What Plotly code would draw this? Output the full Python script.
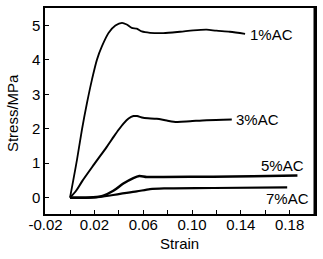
import plotly.graph_objects as go

# Data
strain_1 = [0, 0.0057, 0.0098, 0.0139, 0.018, 0.0221, 0.0262, 0.0317, 0.0372, 0.0426, 0.0465, 0.0506,
            0.0547, 0.0588, 0.0656, 0.0765, 0.0902, 0.101, 0.112, 0.120, 0.131, 0.1435]
stress_1 = [0, 1.10, 1.98, 2.75, 3.43, 4.01, 4.40, 4.79, 5.00, 5.08, 5.03, 4.93,
            4.91, 4.83, 4.79, 4.78, 4.82, 4.86, 4.88, 4.85, 4.82, 4.76]

strain_3 = [0, 0.005, 0.010, 0.020, 0.030, 0.036, 0.040, 0.044, 0.048, 0.052, 0.055, 0.060, 0.0711,
            0.0793, 0.0875, 0.0984, 0.112, 0.1326]
stress_3 = [0, 0.20, 0.48, 0.98, 1.47, 1.78, 1.98, 2.16, 2.30, 2.37, 2.37, 2.32, 2.29,
            2.24, 2.20, 2.22, 2.25, 2.27]

strain_5 = [0, 0.012, 0.019, 0.0273, 0.0355, 0.0437, 0.0519, 0.0568, 0.0629, 0.0765, 0.1175, 0.150, 0.1864]
stress_5 = [0, 0.0, 0.01, 0.06, 0.20, 0.41, 0.57, 0.63, 0.60, 0.60, 0.61, 0.62, 0.64]

strain_7 = [0, 0.015, 0.0246, 0.041, 0.0547, 0.0656, 0.0793, 0.1175, 0.178]
stress_7 = [0, 0.0, 0.02, 0.11, 0.18, 0.25, 0.27, 0.28, 0.30]

series = [
    ("1%AC", strain_1, stress_1, 1.8),
    ("3%AC", strain_3, stress_3, 2.0),
    ("5%AC", strain_5, stress_5, 2.5),
    ("7%AC", strain_7, stress_7, 2.2),
]

# label anchor positions (data coords)
label_x = [0.1455, 0.1345, 0.155, 0.159]
label_y = [4.74, 2.27, 0.93, -0.03]

x_tickvals = [-0.02, 0, 0.02, 0.04, 0.06, 0.08, 0.10, 0.12, 0.14, 0.16, 0.18, 0.20]
x_ticktext = ["-0.02", "", "0.02", "", "0.06", "", "0.10", "", "0.14", "", "0.18", ""]
y_tickvals = [0, 1, 2, 3, 4, 5]

FONT = "Liberation Sans, Arial, sans-serif"

fig = go.Figure()
for name, xs, ys, w in series:
    fig.add_trace(go.Scatter(x=xs, y=ys, mode="lines", name=name,
                             line=dict(color="black", width=w, shape="spline", smoothing=0.8),
                             showlegend=False))

for (name, _, _, _), lx, ly in zip(series, label_x, label_y):
    fig.add_annotation(x=lx, y=ly, text=name, showarrow=False, xanchor="left", yanchor="middle",
                       font=dict(family=FONT, size=15, color="black"))

# axis titles
fig.add_annotation(x=0.497, y=0, xref="paper", yref="paper", text="Strain", showarrow=False,
                   xanchor="center", yanchor="middle", yshift=-29,
                   font=dict(family=FONT, size=15, color="black"))
fig.add_annotation(x=0, y=0.49, xref="paper", yref="paper", text="Stress/MPa", showarrow=False,
                   textangle=-90, xanchor="center", yanchor="middle", xshift=-33,
                   font=dict(family=FONT, size=15, color="black"))

# thicker right border
fig.add_shape(type="line", xref="paper", yref="paper", x0=1, x1=1, y0=0, y1=1,
              line=dict(color="black", width=3))

fig.update_layout(
    width=323, height=259,
    margin=dict(l=45, r=8, t=8, b=45),
    paper_bgcolor="white", plot_bgcolor="white",
    font=dict(family=FONT, size=15, color="black"),
    xaxis=dict(range=[-0.0205, 0.2008], tickvals=x_tickvals, ticktext=x_ticktext,
               ticks="inside", ticklen=4, tickcolor="black", tickwidth=1,
               ticklabelstandoff=-4,
               showline=True, linecolor="black", linewidth=2, mirror=True,
               showgrid=False, zeroline=False, automargin=False),
    yaxis=dict(range=[-0.475, 5.51], tickvals=y_tickvals,
               ticks="inside", ticklen=4, tickcolor="black", tickwidth=1,
               showline=True, linecolor="black", linewidth=1.5, mirror=True,
               showgrid=False, zeroline=False, automargin=False),
)

fig.write_html("out.html", post_script="document.body.style.margin='0';",
               config={"displayModeBar": False})
